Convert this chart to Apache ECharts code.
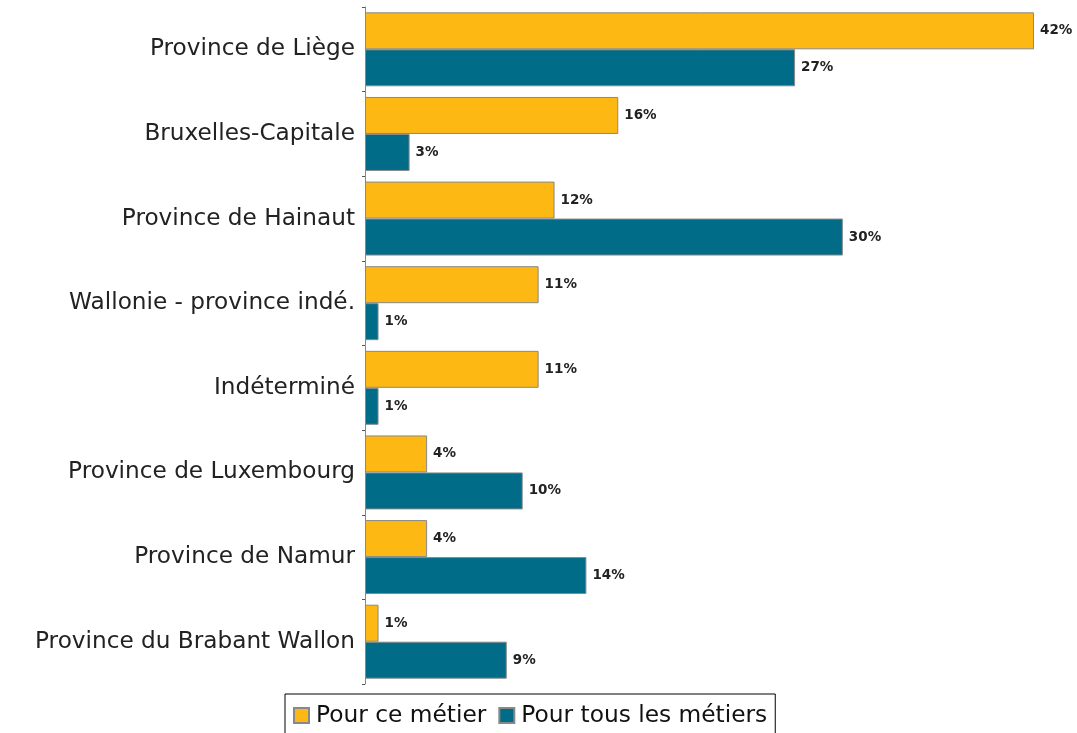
<!DOCTYPE html>
<html>
<head>
<meta charset="utf-8">
<script src="https://cdn.jsdelivr.net/npm/echarts@6/dist/echarts.min.js"></script>
<style>html,body{margin:0;padding:0;background:#fff;}#c{width:1077px;height:733px;}</style>
</head>
<body>
<div id="c"></div>
<script>
const categories = ["Province de Liège","Bruxelles-Capitale","Province de Hainaut","Wallonie - province indé.","Indéterminé","Province de Luxembourg","Province de Namur","Province du Brabant Wallon"];
const seriesNames = ["Pour ce métier","Pour tous les métiers"];
const metierValues = [42, 15.9, 11.9, 10.9, 10.9, 3.9, 3.9, 0.85];
const tousValues = [27, 2.8, 30, 0.85, 0.85, 9.9, 13.9, 8.9];

const chart = echarts.init(document.getElementById('c'), null, {renderer:'canvas'});
const labelCfg = {
  show: true, position: 'right', distance: 6,
  fontFamily: 'DejaVu Sans', fontSize: 13.5, fontWeight: 'bold', color: '#222',
  formatter: p => Math.round(p.value) + '%'
};
chart.setOption({
  animation: false,
  textStyle: {fontFamily: 'DejaVu Sans'},
  grid: {left: 365, right: 43, top: 7, bottom: 49, containLabel: false},
  xAxis: {type: 'value', min: 0, max: 42, show: false},
  yAxis: {
    type: 'category', data: categories, inverse: true,
    axisLine: {show: true, lineStyle: {color: '#888', width: 1}},
    axisTick: {show: true, length: 3, lineStyle: {color: '#555'}},
    axisLabel: {fontFamily: 'DejaVu Sans', fontSize: 23.2, color: '#222', margin: 10}
  },
  legend: {
    data: seriesNames, top: 694, left: 285,
    itemWidth: 15, itemHeight: 15, itemGap: 12,
    borderColor: '#000', borderWidth: 1, padding: [10, 8, 20, 8],
    icon: 'rect',
    textStyle: {fontFamily: 'DejaVu Sans', fontSize: 23.3, color: '#111', padding: [0,0,0,2]}
  },
  series: [
    {name: seriesNames[0], type: 'bar', data: metierValues, barGap: '0%', barCategoryGap: '12.6%',
     itemStyle: {color: '#FDB813', borderColor: '#888', borderWidth: 1}, label: labelCfg},
    {name: seriesNames[1], type: 'bar', data: tousValues,
     itemStyle: {color: '#006C87', borderColor: '#888', borderWidth: 1}, label: labelCfg}
  ]
});
</script>
</body>
</html>
